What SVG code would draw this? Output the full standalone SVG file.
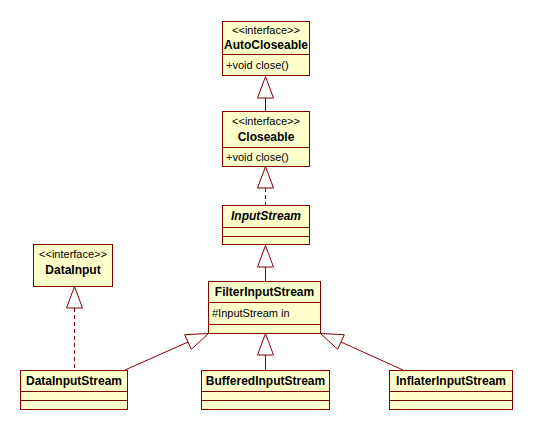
<svg xmlns="http://www.w3.org/2000/svg" width="534" height="431" viewBox="0 0 534 431">
<style>
.box{fill:#FFFFCC;stroke:#800000;stroke-width:1}
.ln{stroke:#800000;stroke-width:1;fill:none}
.dash{stroke-dasharray:4,3}
.tri{fill:#FFFFFF;stroke:#800000;stroke-width:1}
text{font-family:"Liberation Sans",Arial,sans-serif;font-size:11px;fill:#000}
.c{text-anchor:middle}
.b{font-weight:bold;font-size:12px}
.i{font-style:italic}
</style>
<rect width="534" height="431" fill="#FFFFFF"/>
<g id="connectors">
<line class="ln" x1="265.5" y1="98" x2="265.5" y2="111"/>
<polygon class="tri" points="265.5,76.5 257.5,98 273.5,98"/>
<line class="ln dash" x1="265.5" y1="188" x2="265.5" y2="205"/>
<polygon class="tri" points="265.5,166.5 257.5,188 273.5,188"/>
<line class="ln" x1="265.5" y1="267" x2="265.5" y2="281"/>
<polygon class="tri" points="265.5,245.5 257.5,267 273.5,267"/>
<line class="ln" x1="265.5" y1="355" x2="265.5" y2="370"/>
<polygon class="tri" points="265.5,333.5 257.5,355 273.5,355"/>
<line class="ln dash" x1="74.5" y1="308" x2="74.5" y2="370"/>
<polygon class="tri" points="74.5,286.5 66.5,308 82.5,308"/>
<line class="ln" x1="125" y1="370" x2="188" y2="342"/>
<polygon class="tri" points="208.5,333.5 184.7,334.7 191.3,349.3"/>
<line class="ln" x1="403" y1="370" x2="341" y2="342"/>
<polygon class="tri" points="320.5,333.5 337.7,349.3 344.3,334.7"/>
</g>
<g id="AutoCloseable">
<rect class="box" x="222.5" y="21.5" width="87" height="54"/>
<line class="ln" x1="222.5" y1="54.5" x2="309.5" y2="54.5"/>
<text class="c" x="266" y="34">&lt;&lt;interface&gt;&gt;</text>
<text class="c b" x="266" y="49">AutoCloseable</text>
<text x="226" y="69">+void close()</text>
</g>
<g id="Closeable">
<rect class="box" x="222.5" y="111.5" width="87" height="55"/>
<line class="ln" x1="222.5" y1="147.5" x2="309.5" y2="147.5"/>
<text class="c" x="266" y="125">&lt;&lt;interface&gt;&gt;</text>
<text class="c b" x="266" y="141">Closeable</text>
<text x="226" y="161">+void close()</text>
</g>
<g id="InputStream">
<rect class="box" x="222.5" y="205.5" width="87" height="39"/>
<line class="ln" x1="222.5" y1="227.5" x2="309.5" y2="227.5"/>
<line class="ln" x1="222.5" y1="236.5" x2="309.5" y2="236.5"/>
<text class="c b i" x="266" y="220">InputStream</text>
</g>
<g id="FilterInputStream">
<rect class="box" x="208.5" y="281.5" width="112" height="52"/>
<line class="ln" x1="208.5" y1="302.5" x2="320.5" y2="302.5"/>
<line class="ln" x1="208.5" y1="324.5" x2="320.5" y2="324.5"/>
<text class="c b" x="264.5" y="296">FilterInputStream</text>
<text x="212" y="317">#InputStream in</text>
</g>
<g id="DataInput">
<rect class="box" x="33.5" y="244.5" width="79" height="42"/>
<text class="c" x="73" y="258">&lt;&lt;interface&gt;&gt;</text>
<text class="c b" x="73" y="274">DataInput</text>
</g>
<g id="DataInputStream">
<rect class="box" x="20.5" y="370.5" width="107" height="39"/>
<line class="ln" x1="20.5" y1="391.5" x2="127.5" y2="391.5"/>
<line class="ln" x1="20.5" y1="400.5" x2="127.5" y2="400.5"/>
<text class="c b" x="74" y="385">DataInputStream</text>
</g>
<g id="BufferedInputStream">
<rect class="box" x="201.5" y="370.5" width="128" height="39"/>
<line class="ln" x1="201.5" y1="391.5" x2="329.5" y2="391.5"/>
<line class="ln" x1="201.5" y1="400.5" x2="329.5" y2="400.5"/>
<text class="c b" x="265.5" y="385">BufferedInputStream</text>
</g>
<g id="InflaterInputStream">
<rect class="box" x="389.5" y="370.5" width="123" height="39"/>
<line class="ln" x1="389.5" y1="391.5" x2="512.5" y2="391.5"/>
<line class="ln" x1="389.5" y1="400.5" x2="512.5" y2="400.5"/>
<text class="c b" x="451" y="385">InflaterInputStream</text>
</g>
</svg>
